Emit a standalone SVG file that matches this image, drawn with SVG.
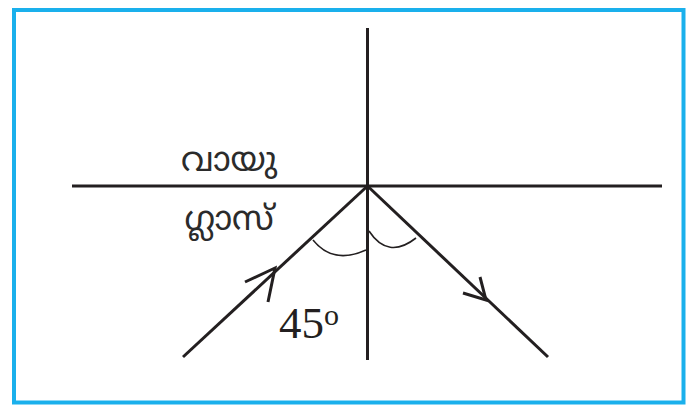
<svg xmlns="http://www.w3.org/2000/svg" width="693" height="408" viewBox="0 0 693 408">
<style>
.ln{stroke:#231f20;stroke-width:3;fill:none;stroke-linecap:butt}
.arc{stroke:#231f20;stroke-width:1.6;fill:none}
.ml{font-family:"Noto Sans Malayalam","Noto Sans","DejaVu Sans",sans-serif;font-size:34px;fill:#2b2b2b}
</style>
<rect x="14" y="10" width="669.5" height="392.5" fill="#fff" stroke="#1ab0ec" stroke-width="4"/>
<g id="axes">
<line class="ln" x1="367.5" y1="28" x2="367.5" y2="360"/>
<line class="ln" x1="72" y1="186" x2="662" y2="186"/>
</g>
<g id="connectors">
<line class="ln" x1="183" y1="357" x2="367.5" y2="186"/>
<polyline class="ln" points="245,282 275,268 268,302" stroke-linejoin="miter"/>
<line class="ln" x1="367.5" y1="186" x2="548" y2="357"/>
<polyline class="ln" points="463,293 486,300 480,277" stroke-linejoin="miter"/>
<path class="arc" d="M313,240 Q333,265 366,250"/>
<path class="arc" d="M369,231 Q388,260 416,238"/>
</g>
<g id="label-air"><text class="ml" x="229" y="171" text-anchor="middle">വായു</text></g>
<g id="label-glass"><text class="ml" x="229" y="230" text-anchor="middle">ഗ്ലാസ്</text></g>
<g id="label-angle"><text x="279" y="338" font-family="'Liberation Serif', 'Times New Roman', serif" font-size="45" fill="#231f20">45<tspan font-size="30" dy="-13">o</tspan></text></g>
</svg>
